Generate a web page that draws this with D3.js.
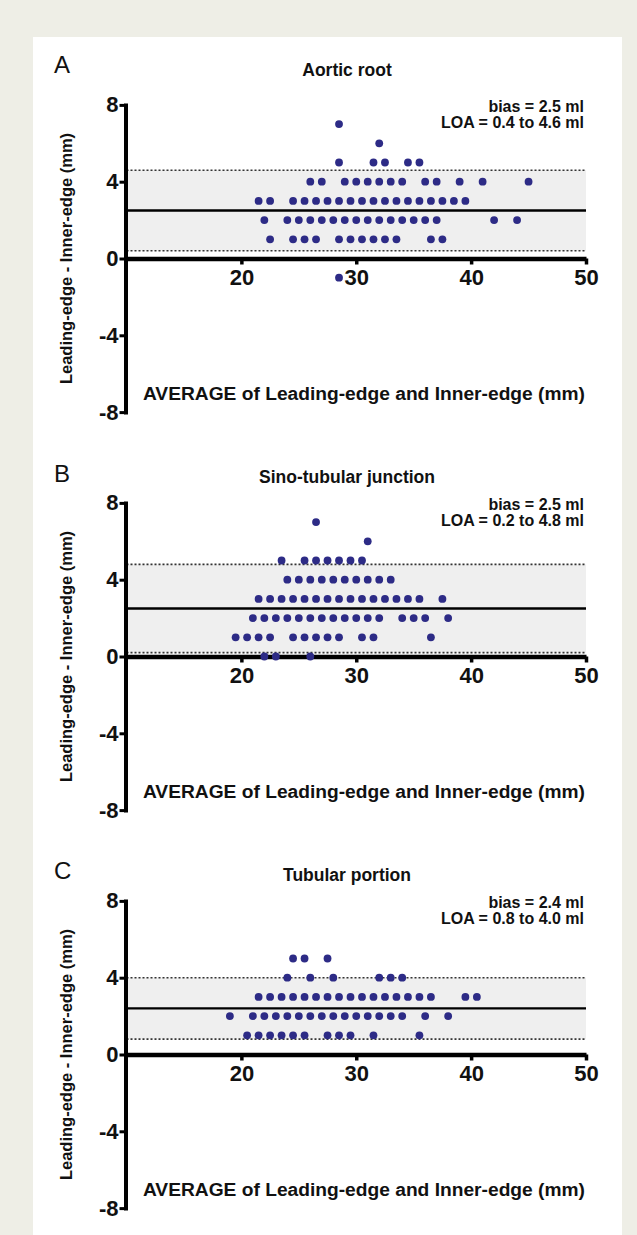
<!DOCTYPE html>
<html>
<head>
<meta charset="utf-8">
<script src="https://cdn.jsdelivr.net/npm/d3@7/dist/d3.min.js"></script>
<style>
  html, body { margin: 0; padding: 0; background: #eeeee6; }
  svg { display: block; }
  text { font-family: "Liberation Sans", Arial, Helvetica, sans-serif; }
</style>
</head>
<body>
<svg id="chart" width="637" height="1235"></svg>
<script>
// ---------------- data ----------------
const panelLetters = ["A", "B", "C"];
const panelTitles = ["Aortic root", "Sino-tubular junction", "Tubular portion"];
const biasValues = [2.5, 2.5, 2.4];
const loaLower = [0.4, 0.2, 0.8];
const loaUpper = [4.6, 4.8, 4.0];
const xTicks = [20, 30, 40, 50];
const yTicks = [-8, -4, 0, 4, 8];
const xDomain = [10, 50];
const yDomain = [-8, 8];
const xAxisTitle = "AVERAGE of Leading-edge and Inner-edge (mm)";
const yAxisTitle = "Leading-edge - Inner-edge (mm)";

// rows: [difference, [averages...]]
const aorticRoot = [
  [7, [28.5]],
  [6, [32]],
  [5, [28.5, 31.5, 32.5, 34.5, 35.5]],
  [4, [26, 27, 29, 30, 31, 32, 33, 34, 36, 37, 39, 41, 45]],
  [3, [21.5, 22.5, 24.5, 25.5, 26.5, 27.5, 28.5, 29.5, 30.5, 31.5, 32.5, 33.5, 34.5, 35.5, 36.5, 37.5, 38.5, 39.5]],
  [2, [22, 24, 25, 26, 27, 28, 29, 30, 31, 32, 33, 34, 35, 36, 37, 42, 44]],
  [1, [22.5, 24.5, 25.5, 26.5, 28.5, 29.5, 30.5, 31.5, 32.5, 33.5, 36.5, 37.5]],
  [-1, [28.5]]
];
const sinoTubular = [
  [7, [26.5]],
  [6, [31]],
  [5, [23.5, 25.5, 26.5, 27.5, 28.5, 29.5, 30.5]],
  [4, [24, 25, 26, 27, 28, 29, 30, 31, 32, 33]],
  [3, [21.5, 22.5, 23.5, 24.5, 25.5, 26.5, 27.5, 28.5, 29.5, 30.5, 31.5, 32.5, 33.5, 34.5, 35.5, 37.5]],
  [2, [21, 22, 23, 24, 25, 26, 27, 28, 29, 30, 31, 32, 34, 35, 36, 38]],
  [1, [19.5, 20.5, 21.5, 22.5, 24.5, 25.5, 26.5, 27.5, 28.5, 30.5, 31.5, 36.5]],
  [0, [22, 23, 26]]
];
const tubularPortion = [
  [5, [24.5, 25.5, 27.5]],
  [4, [24, 26, 28, 32, 33, 34]],
  [3, [21.5, 22.5, 23.5, 24.5, 25.5, 26.5, 27.5, 28.5, 29.5, 30.5, 31.5, 32.5, 33.5, 34.5, 35.5, 36.5, 39.5, 40.5]],
  [2, [19, 21, 22, 23, 24, 25, 26, 27, 28, 29, 30, 31, 32, 33, 34, 36, 38]],
  [1, [20.5, 21.5, 22.5, 23.5, 24.5, 25.5, 27.5, 28.5, 29.5, 31.5, 35.5]]
];
const panelData = [aorticRoot, sinoTubular, tubularPortion];

// ---------------- layout ----------------
const layout = {
  zeroY: [258.5, 656.5, 1054.5],
  letterY: [73, 482, 879],
  titleY: [76, 483, 881],
  unitPx: 19.2,
  xLeft: 126.5,
  xRight: 586,
  axisX: 125.5
};

const svg = d3.select("#chart");
svg.append("rect").attr("x", 0).attr("y", 0).attr("width", 637).attr("height", 1235).attr("fill", "#eeeee6");
svg.append("rect").attr("x", 33).attr("y", 37).attr("width", 589).attr("height", 1198).attr("fill", "#ffffff");

const FONT_B = "bold";
const tickFmt = d => String(d);

panelData.forEach((rows, i) => {
  const y0 = layout.zeroY[i];
  const x = d3.scaleLinear().domain(xDomain).range([layout.xLeft, layout.xRight]);
  const y = d3.scaleLinear().domain(yDomain).range([y0 + 8 * layout.unitPx, y0 - 8 * layout.unitPx]);
  const g = svg.append("g");

  // band between limits of agreement
  g.append("rect")
    .attr("x", x(xDomain[0]))
    .attr("y", y(loaUpper[i]))
    .attr("width", x(xDomain[1]) - x(xDomain[0]))
    .attr("height", y(loaLower[i]) - y(loaUpper[i]))
    .attr("fill", "#efefef");

  // dotted LOA lines
  [loaUpper[i], loaLower[i]].forEach(v => {
    g.append("line")
      .attr("x1", x(xDomain[0])).attr("x2", x(xDomain[1]))
      .attr("y1", y(v)).attr("y2", y(v))
      .attr("stroke", "#333").attr("stroke-width", 1.6)
      .attr("stroke-dasharray", "2,2");
  });

  // bias line
  g.append("line")
    .attr("x1", x(xDomain[0])).attr("x2", x(xDomain[1]))
    .attr("y1", y(biasValues[i])).attr("y2", y(biasValues[i]))
    .attr("stroke", "#000").attr("stroke-width", 2.4);

  // y axis
  const yAxis = d3.axisLeft(y).tickValues(yTicks).tickSize(6).tickSizeOuter(0).tickPadding(1).tickFormat(tickFmt);
  const gy = g.append("g").attr("transform", `translate(${layout.axisX},0)`).call(yAxis);
  gy.select(".domain").attr("stroke", "#000").attr("stroke-width", 4).attr("stroke-linecap", "square");
  gy.selectAll(".tick line").attr("stroke", "#000").attr("stroke-width", 3);
  gy.selectAll(".tick text").attr("font-size", 22).attr("font-weight", FONT_B).attr("fill", "#111")
    .attr("font-family", "'Liberation Sans', Arial, sans-serif");

  // x axis at y = 0
  const xAxis = d3.axisBottom(x).tickValues(xTicks).tickSize(6).tickSizeOuter(0).tickPadding(5).tickFormat(tickFmt);
  const gx = g.append("g").attr("transform", `translate(0,${y(0)})`).call(xAxis);
  gx.select(".domain").attr("stroke", "#000").attr("stroke-width", 4.5);
  gx.selectAll(".tick line").attr("stroke", "#000").attr("stroke-width", 3.5);
  gx.selectAll(".tick text").attr("font-size", 22).attr("font-weight", FONT_B).attr("fill", "#111")
    .attr("font-family", "'Liberation Sans', Arial, sans-serif");

  // points
  const pts = [];
  rows.forEach(([diff, avgs]) => avgs.forEach(a => pts.push({ a, diff })));
  g.append("g").selectAll("circle").data(pts).join("circle")
    .attr("cx", d => x(d.a))
    .attr("cy", d => y(d.diff))
    .attr("r", 3.9)
    .attr("fill", "#2d2b86");

  // panel letter
  g.append("text").attr("x", 54).attr("y", layout.letterY[i])
    .attr("font-size", 24).attr("fill", "#111").text(panelLetters[i]);

  // title
  g.append("text").attr("x", 347).attr("y", layout.titleY[i])
    .attr("text-anchor", "middle").attr("font-size", 17.5).attr("font-weight", FONT_B)
    .attr("fill", "#111").text(panelTitles[i]);

  // bias / LOA annotation
  g.append("text").attr("x", 584).attr("y", y0 - 147)
    .attr("text-anchor", "end").attr("font-size", 16).attr("font-weight", FONT_B).attr("fill", "#111")
    .text(`bias = ${biasValues[i].toFixed(1)} ml`);
  g.append("text").attr("x", 584).attr("y", y0 - 131)
    .attr("text-anchor", "end").attr("font-size", 16).attr("font-weight", FONT_B).attr("fill", "#111")
    .text(`LOA = ${loaLower[i].toFixed(1)} to ${loaUpper[i].toFixed(1)} ml`);

  // x-axis title (inside plot)
  g.append("text").attr("x", 585).attr("y", y0 + 141.5)
    .attr("text-anchor", "end").attr("font-size", 19.2).attr("font-weight", FONT_B).attr("fill", "#111")
    .text(xAxisTitle);

  // y-axis title
  g.append("text")
    .attr("transform", `translate(71.5,${y0}) rotate(-90)`)
    .attr("text-anchor", "middle").attr("font-size", 16.5).attr("font-weight", FONT_B).attr("fill", "#111")
    .text(yAxisTitle);
});
</script>
</body>
</html>
